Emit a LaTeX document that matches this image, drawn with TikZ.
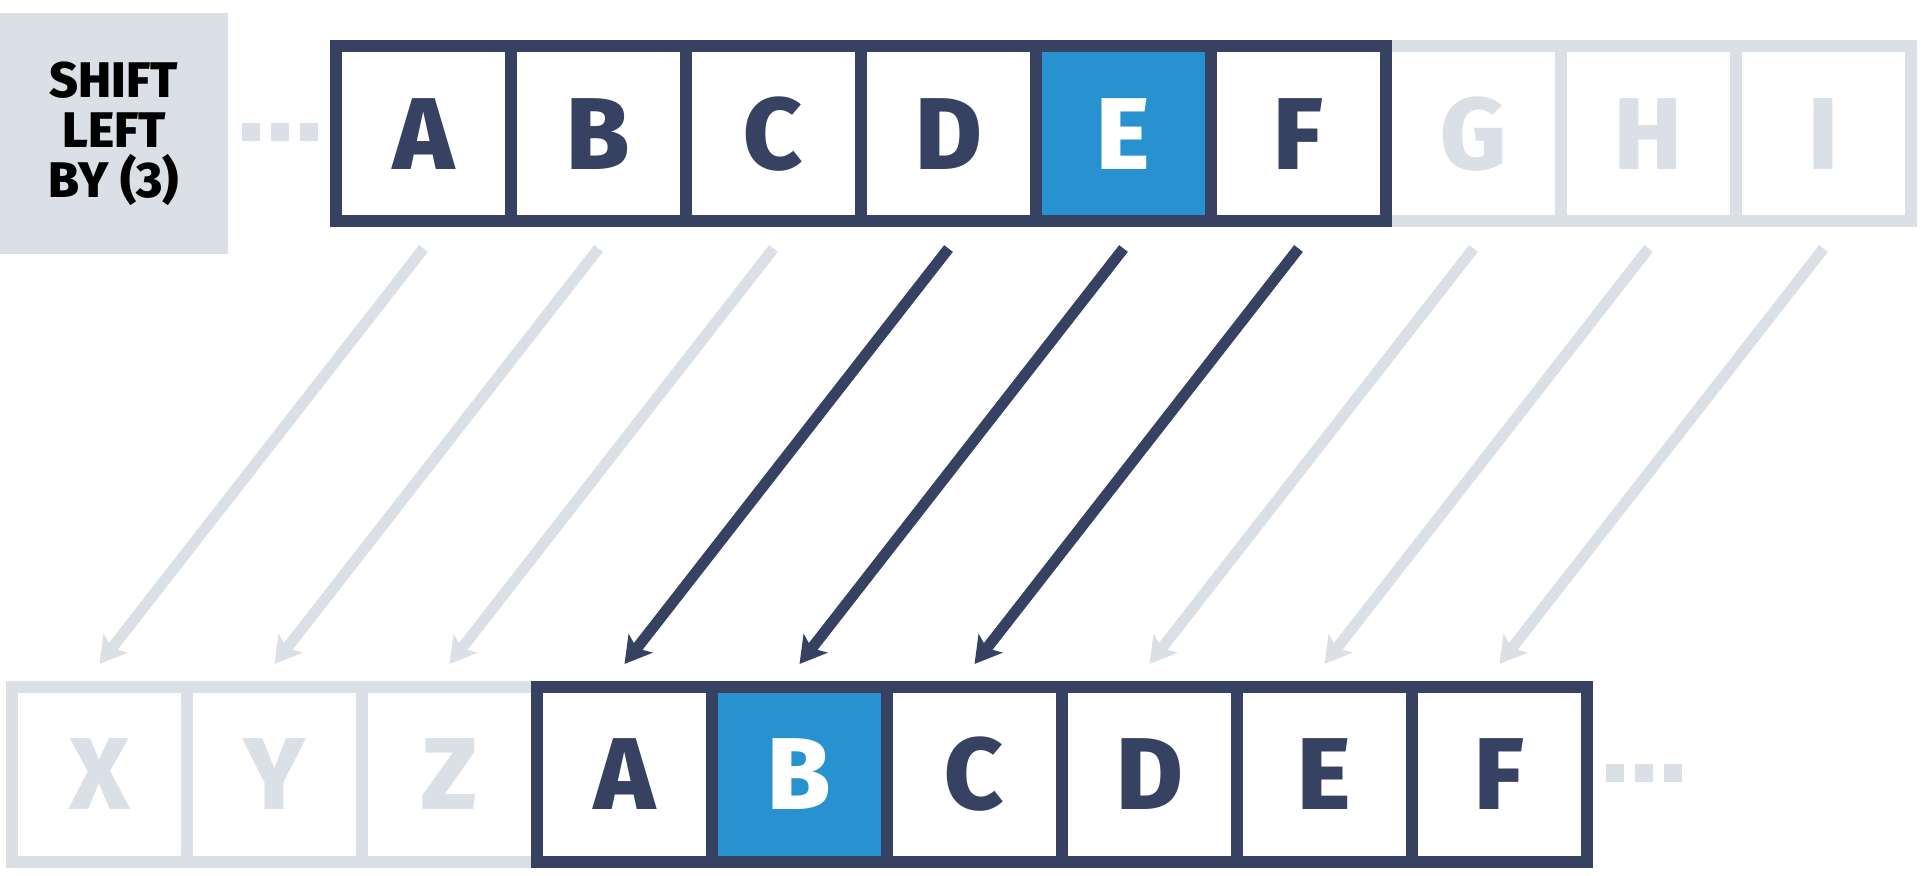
\documentclass[tikz,border=0pt]{standalone}
\usepackage{fontspec}
\setmainfont{Fira Sans}[BoldFont={Fira Sans ExtraBold}]
\usetikzlibrary{arrows.meta,calc}
\definecolor{navy}{HTML}{374263}
\definecolor{hiblue}{HTML}{2891CF}
\definecolor{pale}{HTML}{DAE0E6}
\tikzset{
  cell/.style={draw=navy, line width=6pt, minimum width=87.5pt, minimum height=87.5pt,
    inner sep=0pt, text=navy, font=\fontsize{51}{51}\selectfont\bfseries},
  ghost/.style={cell, draw=pale, text=pale},
  marked/.style={cell, fill=hiblue, text=white},
  dotbox/.style={fill=pale, minimum size=9pt, inner sep=0pt},
  move/.style={line width=5.5pt, navy, -{Stealth[length=13pt,width=15pt,inset=3pt]}},
  ghostmove/.style={move, pale},
}

\begin{document}
\begin{tikzpicture}[x=0.5pt,y=-0.5pt]
\useasboundingbox (0,0) rectangle (1921,876);

% The label
\node[fill=pale, minimum width=114pt, minimum height=120.5pt, align=center,
  font=\fontsize{25}{25}\selectfont\bfseries] (lbl) at (114,133.5) {SHIFT\\LEFT\\BY (3)};

% Dots before the source row
\foreach \k in {0,1,2}
  \node[dotbox] (ldot\k) at ({251+29*\k},132) {};

% The source row, pale cells first
\foreach \l/\i in {G/7,H/8,I/9}
  \node[ghost] (t\i) at ({423.5+175*(\i-1)},134) {\l};
\foreach \l/\i/\s in {A/1/cell,B/2/cell,C/3/cell,D/4/cell,E/5/marked,F/6/cell}
  \node[\s] (t\i) at ({423.5+175*(\i-1)},134) {\l};

% The shifted row
\foreach \l/\i in {X/1,Y/2,Z/3}
  \node[ghost] (b\i) at ({99.5+175*(\i-1)},774.5) {\l};
\foreach \l/\i/\s in {A/4/cell,B/5/marked,C/6/cell,D/7/cell,E/8/cell,F/9/cell}
  \node[\s] (b\i) at ({99.5+175*(\i-1)},774.5) {\l};

% Dots after the shifted row
\foreach \k in {0,1,2}
  \node[dotbox] (rdot\k) at ({1615+29*\k},773) {};

% Moves
\foreach \i in {1,2,3,7,8,9}
  \draw[ghostmove] ($(t\i.south)+(0,21)$) -- ($(b\i.north)+(0,-17)$);
\foreach \i in {4,5,6}
  \draw[move] ($(t\i.south)+(0,21)$) -- ($(b\i.north)+(0,-17)$);
\end{tikzpicture}
\end{document}
